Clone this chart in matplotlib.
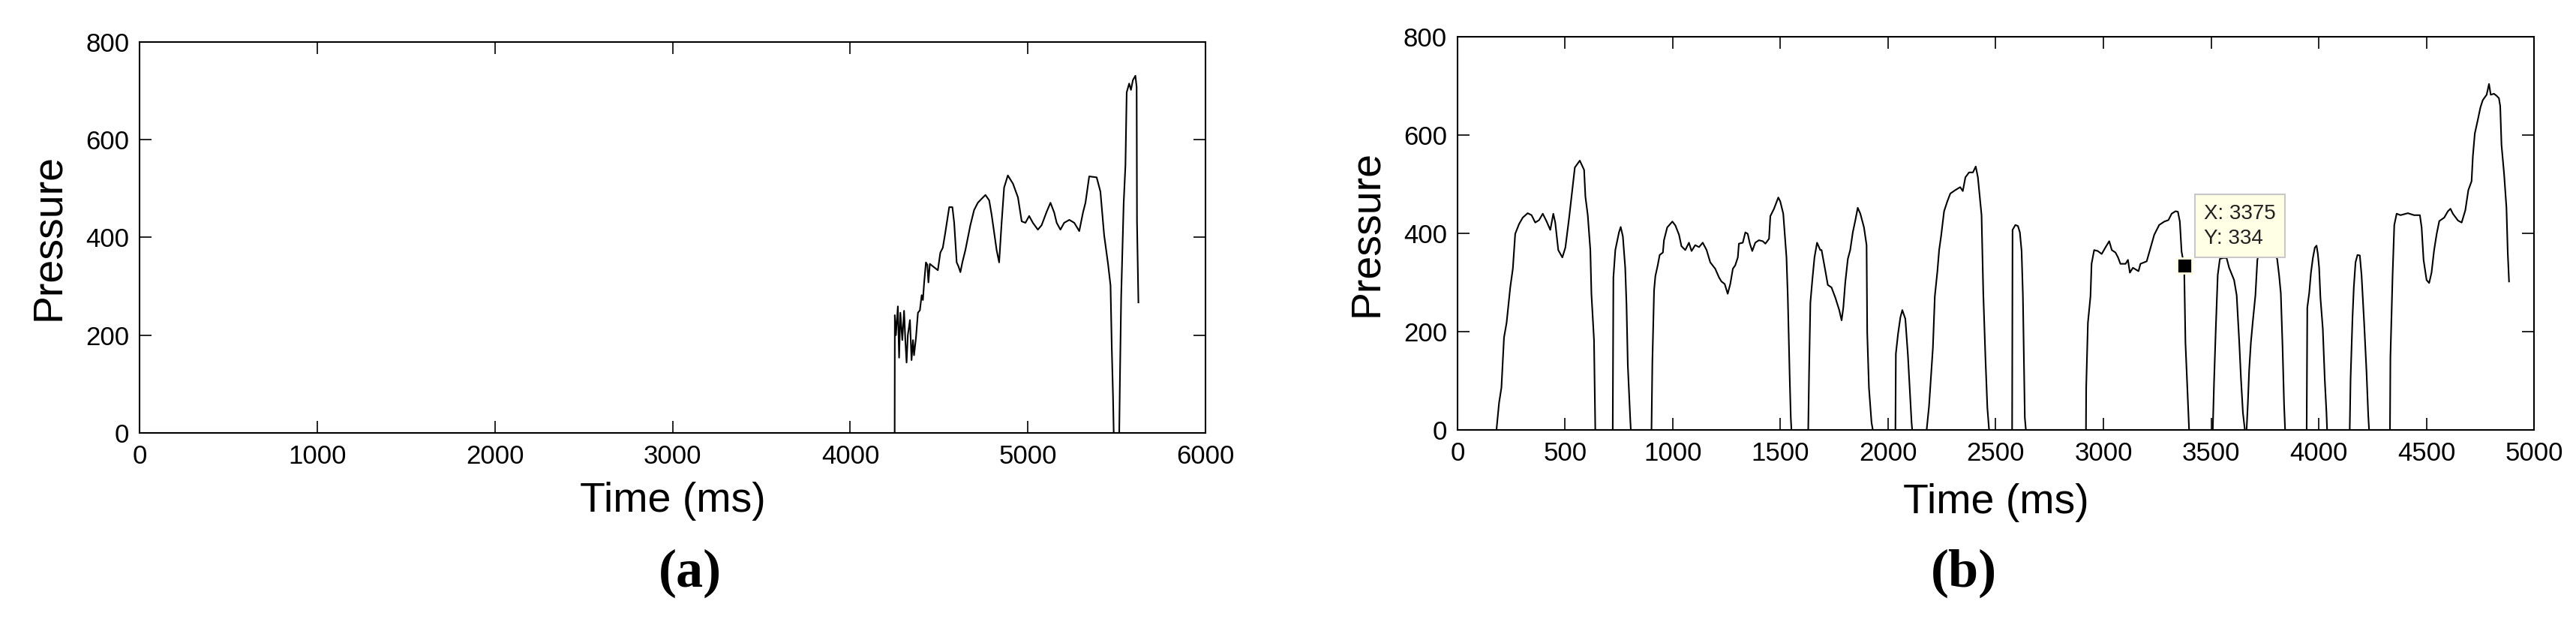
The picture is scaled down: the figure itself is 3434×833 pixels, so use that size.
import numpy as np
import matplotlib
matplotlib.use('Agg')
import matplotlib.pyplot as plt

plt.rcParams['font.family'] = ['Liberation Sans', 'DejaVu Sans']

# Panel (a): pressure trace
time_a = [0, 4250, 4251, 4257, 4268, 4275, 4282, 4293, 4303, 4310, 4317, 4324, 4336,
          4345, 4353, 4359, 4370, 4381, 4392, 4402, 4409, 4416, 4426, 4434, 4440, 4448,
          4465, 4493, 4507, 4521, 4535, 4557, 4575, 4585, 4599, 4609, 4620, 4631, 4648,
          4676, 4697, 4718, 4739, 4761, 4782, 4796, 4810, 4824, 4838, 4852, 4866, 4887,
          4916, 4944, 4965, 4986, 5007, 5028, 5056, 5077, 5106, 5127, 5148, 5162, 5183,
          5204, 5233, 5261, 5289, 5310, 5324, 5345, 5387, 5408, 5429, 5451, 5465, 5472,
          5479, 5483, 5514, 5518, 5525, 5539, 5549, 5556, 5570, 5580, 5591, 5605, 5612,
          5614, 5622]
press_a = [0, 0, 241, 200, 259, 154, 246, 190, 250, 190, 144, 200, 231,
           149, 190, 159, 195, 246, 251, 282, 272, 308, 349, 344, 308, 346,
           341, 333, 369, 379, 410, 462, 462, 430, 349, 341, 329, 349, 374,
           425, 456, 471, 479, 487, 476, 446, 410, 374, 349, 430, 502, 527,
           510, 482, 433, 430, 444, 430, 416, 425, 453, 471, 451, 430, 416,
           430, 436, 430, 413, 451, 471, 525, 523, 494, 405, 346, 302, 175,
           75, 0, 0, 111, 279, 470, 548, 697, 715, 702, 722, 731, 708,
           433, 267]

# Panel (b): pressure trace
time_b = [0, 181, 193, 204, 216, 228, 245, 257, 268, 286, 303, 326, 344, 361, 379, 396,
          413, 431, 445, 454, 468, 487, 501, 518, 535, 545, 568, 588, 594, 605, 617, 622,
          634, 640, 721, 724, 733, 750, 758, 768, 779, 785, 791, 802, 805, 901, 905, 913,
          919, 930, 939, 954, 959, 974, 998, 1012, 1029, 1040, 1058, 1075, 1087, 1104,
          1122, 1139, 1157, 1174, 1197, 1215, 1226, 1241, 1255, 1267, 1279, 1290, 1302,
          1307, 1325, 1337, 1348, 1358, 1369, 1383, 1400, 1418, 1430, 1447, 1453, 1470,
          1490, 1499, 1513, 1528, 1534, 1543, 1548, 1551, 1629, 1633, 1639, 1648, 1658,
          1670, 1685, 1691, 1708, 1720, 1737, 1755, 1773, 1784, 1792, 1801, 1813, 1824,
          1836, 1848, 1859, 1871, 1888, 1900, 1903, 1911, 1923, 1929, 2034, 2036, 2046,
          2057, 2066, 2080, 2092, 2101, 2109, 2112, 2179, 2190, 2198, 2208, 2217, 2229,
          2237, 2246, 2260, 2275, 2289, 2312, 2335, 2347, 2359, 2376, 2394, 2407, 2417,
          2434, 2442, 2452, 2461, 2469, 2576, 2578, 2591, 2603, 2612, 2620, 2626, 2635,
          2640, 2919, 2920, 2928, 2940, 2945, 2957, 2974, 2992, 3009, 3027, 3039, 3056,
          3068, 3079, 3103, 3114, 3123, 3137, 3163, 3172, 3201, 3219, 3236, 3259, 3283,
          3302, 3317, 3335, 3346, 3355, 3363, 3375, 3381, 3393, 3398, 3508, 3514, 3522,
          3531, 3541, 3557, 3572, 3584, 3607, 3619, 3631, 3639, 3648, 3657, 3665, 3671,
          3677, 3685, 3694, 3706, 3715, 3730, 3760, 3790, 3807, 3816, 3824, 3832, 3839,
          3844, 3944, 3947, 3956, 3964, 3973, 3982, 3990, 3996, 4002, 4008, 4019, 4028,
          4036, 4039, 4144, 4148, 4157, 4163, 4171, 4180, 4191, 4199, 4211, 4222, 4230,
          4234, 4331, 4333, 4343, 4351, 4362, 4380, 4414, 4443, 4470, 4478, 4487, 4501,
          4513, 4524, 4536, 4548, 4560, 4583, 4600, 4612, 4623, 4647, 4664, 4681, 4695,
          4710, 4716, 4725, 4739, 4751, 4762, 4780, 4791, 4799, 4814, 4826, 4837, 4843,
          4849, 4861, 4872, 4878, 4884]
press_b = [0, 0, 55, 86, 188, 218, 290, 328, 399, 419, 432, 441, 437, 422, 427, 440,
           425, 407, 440, 422, 366, 351, 371, 430, 496, 534, 548, 529, 475, 437, 366, 277,
           183, 0, 0, 310, 366, 402, 413, 394, 330, 254, 132, 25, 0, 0, 137, 284,
           313, 335, 356, 361, 386, 412, 424, 416, 397, 374, 366, 381, 364, 376,
           372, 381, 366, 341, 328, 310, 302, 297, 277, 297, 328, 335, 351,
           379, 381, 402, 399, 379, 364, 381, 386, 384, 379, 389, 435, 450,
           473, 465, 440, 351, 272, 106, 25, 0, 0, 119, 259, 305, 351,
           381, 366, 366, 325, 295, 290, 269, 244, 223, 249, 300, 348, 366,
           402, 427, 452, 440, 412, 376, 198, 86, 15, 0, 0, 155, 195,
           229, 244, 226, 152, 81, 15, 0, 0, 48, 101, 167, 272, 323,
           366, 394, 445, 465, 481, 488, 494, 486, 514, 524, 524, 536, 514,
           437, 279, 147, 45, 0, 0, 407, 417, 415, 402, 364, 274, 25,
           0, 0, 86, 218, 272, 338, 366, 364, 358, 371, 384, 366, 361,
           351, 338, 338, 346, 320, 330, 323, 338, 343, 371, 397, 417, 424,
           427, 440, 445, 444, 424, 363, 334, 178, 53, 0, 0, 99, 206,
           315, 348, 350, 350, 330, 305, 274, 178, 104, 35, 0, 0, 55,
           122, 178, 221, 274, 346, 375, 378, 365, 348, 315, 278, 170, 53,
           0, 0, 249, 279, 320, 350, 371, 375, 358, 330, 269, 206, 104,
           35, 0, 0, 104, 229, 290, 341, 356, 355, 315, 218, 119, 30,
           0, 0, 147, 313, 417, 440, 437, 441, 437, 437, 412, 346, 305,
           299, 320, 366, 399, 425, 432, 445, 450, 440, 426, 422, 447, 488,
           506, 557, 603, 631, 656, 671, 682, 704, 682, 684, 680, 675, 659,
           580, 521, 452, 361, 302]

# data tip shown on panel (b)
tip_x = 3375
tip_y = 334

fig = plt.figure(figsize=(34.34, 8.33), dpi=100)
ax_a = fig.add_axes([0.0542, 0.3073, 0.4138, 0.6255])
ax_b = fig.add_axes([0.5658, 0.3121, 0.4179, 0.6291])


def style_axes(ax, xmax, xstep, xlab_y, ylab_x):
    ax.set_xlim(0, xmax)
    ax.set_ylim(0, 800)
    ax.set_xticks(np.arange(0, xmax + 1, xstep))
    ax.set_yticks(np.arange(0, 801, 200))
    ax.tick_params(direction='in', top=True, right=True, length=11.5, width=1.2,
                   labelsize=25)
    ax.tick_params(axis='x', pad=11)
    ax.tick_params(axis='y', pad=10)
    for sp in ax.spines.values():
        sp.set_linewidth(1.5)
    ax.set_xlabel('Time (ms)', fontsize=40, va='center')
    ax.xaxis.set_label_coords(0.5, xlab_y)
    ax.set_ylabel('Pressure', fontsize=40, va='center')
    ax.yaxis.set_label_coords(ylab_x, 0.5)


ax_a.plot(time_a, press_a, color='black', lw=1.5)
style_axes(ax_a, 6000, 1000, -0.175, -0.085)

ax_b.plot(time_b, press_b, color='black', lw=1.5)
style_axes(ax_b, 5000, 500, -0.185, -0.084)

# data cursor marker and box
ax_b.plot(tip_x, tip_y, 's', ms=14, mfc='black', mec='#fffde2', mew=2, zorder=4)
ax_b.annotate(f'X: {tip_x}\nY: {tip_y}', xy=(tip_x, tip_y), xytext=(19, 17),
              textcoords='offset points', ha='left', va='bottom', fontsize=20,
              color='#222222', linespacing=1.35, zorder=5,
              bbox=dict(boxstyle='square,pad=0.45', fc='#ffffe6', ec='#c8c8c8', lw=1.5))

fig.text(0.268, 0.083, '(a)', fontsize=52, fontweight='bold',
         family=['Liberation Serif', 'DejaVu Serif'], ha='center', va='center')
fig.text(0.7624, 0.083, '(b)', fontsize=52, fontweight='bold',
         family=['Liberation Serif', 'DejaVu Serif'], ha='center', va='center')

plt.savefig('out.png', dpi=100)
